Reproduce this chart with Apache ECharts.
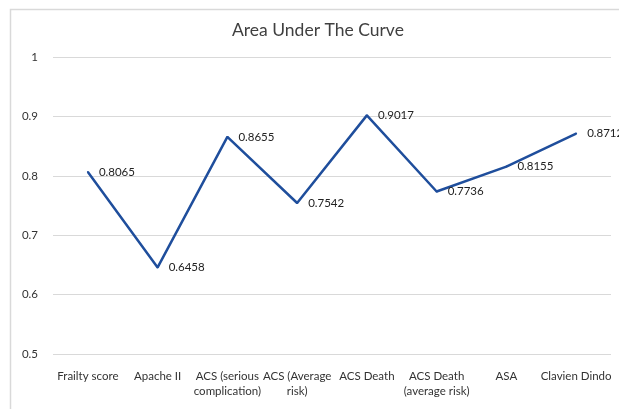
<!DOCTYPE html>
<html><head><meta charset="utf-8">
<script src="https://cdn.jsdelivr.net/npm/echarts@6/dist/echarts.min.js"></script>
<style>html,body{margin:0;padding:0;background:#fff}#c{width:619px;height:409px}</style>
</head><body><div id="c"></div>
<script>
const categories = ['Frailty score','Apache II','ACS (serious\ncomplication)','ACS (Average\nrisk)','ACS Death','ACS Death\n(average risk)','ASA','Clavien Dindo'];
const aucValues = [0.8065,0.6458,0.8655,0.7542,0.9017,0.7736,0.8155,0.8712];
const yTicks = [0.5,0.6,0.7,0.8,0.9,1];

const FONT = 'Lato';
const chart = echarts.init(document.getElementById('c'));
chart.setOption({
  animation:false,
  backgroundColor:'#fff',
  graphic:[{type:'rect',left:8,top:7,shape:{width:640,height:420},style:{fill:'none',stroke:'#d9d9d9',lineWidth:1.5},silent:true}],
  title:{text:'Area Under The Curve',left:227,top:16,textStyle:{fontFamily:FONT,fontWeight:'normal',fontSize:17.5,color:'#404040'}},
  grid:{left:53,right:8,top:57,bottom:55},
  xAxis:{type:'category',data:categories,boundaryGap:true,
    axisLine:{show:false},axisTick:{show:false},
    axisLabel:{interval:0,color:'#333',fontFamily:FONT,fontSize:11.5,lineHeight:15,margin:15}},
  yAxis:{type:'value',min:yTicks[0],max:yTicks[yTicks.length-1],interval:0.1,
    axisLine:{show:false},axisTick:{show:false},
    splitLine:{lineStyle:{color:'#d9d9d9',width:1}},
    axisLabel:{color:'#333',fontFamily:FONT,fontSize:11.5,margin:15,formatter:v=>String(+v.toFixed(1))}},
  series:[{type:'line',data:aucValues,symbol:'circle',symbolSize:2,showSymbol:true,showAllSymbol:true,
    itemStyle:{color:'#1f4e9c',borderWidth:0},
    lineStyle:{color:'#1f4e9c',width:2.5},
    label:{show:true,position:'right',distance:10,color:'#222',fontFamily:FONT,fontSize:11.5,formatter:p=>Number(p.value).toFixed(4)}}]
});
</script></body></html>
